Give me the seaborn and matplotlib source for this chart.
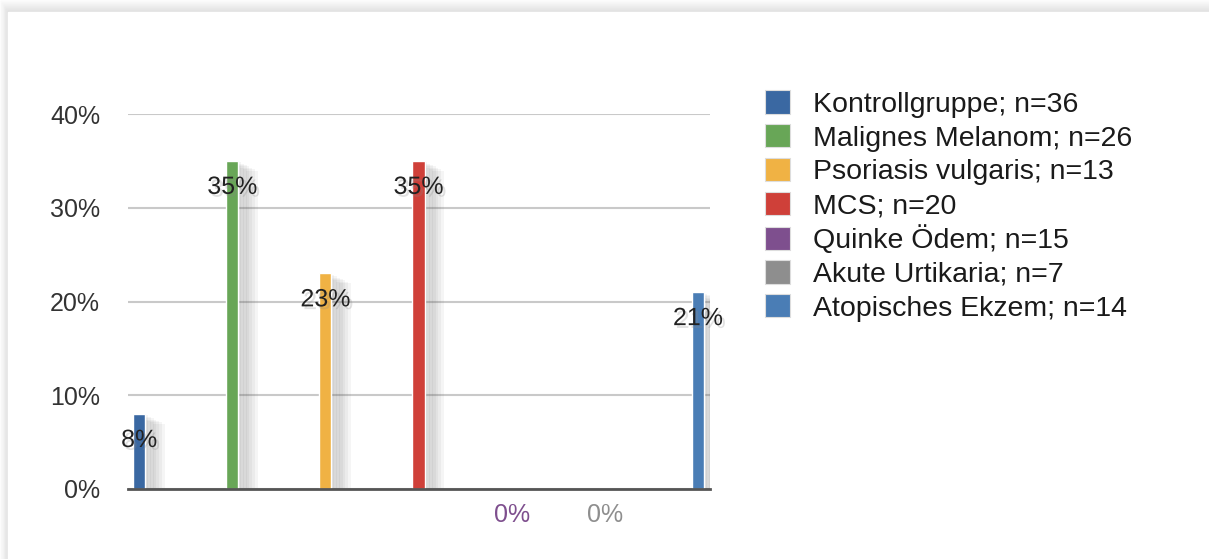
import matplotlib
matplotlib.use("Agg")
import matplotlib.pyplot as plt
import matplotlib.patheffects as pe
from matplotlib.patches import Rectangle
from matplotlib.ticker import FuncFormatter
import seaborn as sns
import pandas as pd

# data
groups = ["Kontrollgruppe; n=36", "Malignes Melanom; n=26", "Psoriasis vulgaris; n=13",
          "MCS; n=20", "Quinke Ödem; n=15", "Akute Urtikaria; n=7", "Atopisches Ekzem; n=14"]
values = [8, 35, 23, 35, 0, 0, 21]
value_labels = ["8%", "35%", "23%", "35%", "0%", "0%", "21%"]
colors = ["#3a68a2", "#68a657", "#f0b244", "#cf4039", "#7e4f8e", "#8e8e8e", "#4a7db5"]
label_colors = ["#222222", "#222222", "#222222", "#222222", "#7e4f8e", "#8e8e8e", "#222222"]
yticks = [0, 10, 20, 30, 40]

df = pd.DataFrame({"group": groups, "value": values})

sns.set_theme(style="white")
plt.rcParams["font.family"] = ["Liberation Sans", "DejaVu Sans"]

fig = plt.figure(figsize=(12.09, 5.59), dpi=100)

# card with soft shadow
for i in range(6):
    fig.patches.append(Rectangle((i * 1.3 / 1209, 0), 1, 1 - i * 2 / 559, transform=fig.transFigure,
                                 facecolor="black", alpha=0.018, zorder=-3))
fig.patches.append(Rectangle((8 / 1209, 0), 1, 1 - 12 / 559, transform=fig.transFigure,
                             facecolor="white", zorder=-2))

ax = fig.add_axes([128 / 1209, 70 / 559, 582 / 1209, 375 / 559])
ax.set_facecolor("none")

sns.barplot(data=df, x="group", y="value", hue="group", palette=colors, saturation=1,
            dodge=False, width=0.13, legend=False, ax=ax, zorder=3)

# blurred drop shadow to the right of each bar
shadow = [pe.SimplePatchShadow(offset=(dx, -dx * 0.5), shadow_rgbFace="#555555", alpha=0.06)
          for dx in (14, 12, 10, 8, 6, 4, 2)]
for bar in ax.patches:
    bar.set_path_effects(shadow + [pe.Normal()])

text_shadow = [pe.SimplePatchShadow(offset=(2, -2), shadow_rgbFace="#888888", alpha=0.25), pe.Normal()]
for i, (v, lab, c) in enumerate(zip(values, value_labels, label_colors)):
    t = ax.annotate(lab, (i, v), xytext=(0, -26), textcoords="offset pixels",
                    ha="center", va="center", fontsize=18, color=c, zorder=5)
    if v > 0:
        t.set_path_effects(text_shadow)

ax.set_xlim(-0.12, 6.13)
ax.set_ylim(0, 40)
ax.set_yticks(yticks)
ax.yaxis.set_major_formatter(FuncFormatter(lambda v, p: f"{v:.0f}%"))
ax.set_xticks([])
ax.set_xlabel("")
ax.set_ylabel("")
ax.tick_params(axis="y", length=0, pad=20, labelsize=18, labelcolor="#333333")
ax.grid(axis="y", color="#c9c9c9", linewidth=1.5, zorder=0)
for s in ["top", "right", "left"]:
    ax.spines[s].set_visible(False)
ax.spines["bottom"].set_color("#555555")
ax.spines["bottom"].set_linewidth(2)
ax.spines["bottom"].set_zorder(4)

handles = [Rectangle((0, 0), 1, 1, facecolor=c, edgecolor="#dddddd", linewidth=0.8) for c in colors]
fig.legend(handles, groups, loc="upper left", bbox_to_anchor=(754 / 1209, 1 - 79 / 559),
           frameon=False, fontsize=20.5, handlelength=0.88, handleheight=0.88,
           handletextpad=0.8, labelspacing=0.22, borderaxespad=0, labelcolor="#1a1a1a")

fig.savefig("out.png", dpi=100)
